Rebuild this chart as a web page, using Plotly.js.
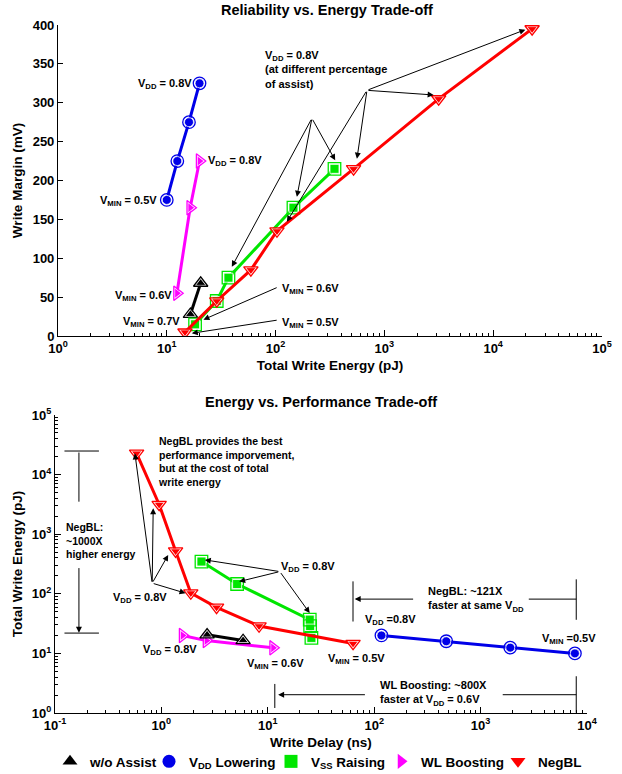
<!DOCTYPE html>
<html><head><meta charset="utf-8">
<script src="https://cdn.plot.ly/plotly-3.0.1.min.js"></script>
<style>body{margin:0;background:#fff}#chart{width:622px;height:774px}</style>
</head><body><div id="chart"></div>
<script>
// ---- data: energy (pJ), write margin (mV), write delay (ns) ----
const seriesNames = ['w/o Assist', 'V<sub>DD</sub> Lowering', 'V<sub>SS</sub> Raising', 'WL Boosting', 'NegBL'];
const noAssistEnergy = [16.5, 20.5];
const noAssistMargin = [28, 68];
const noAssistDelay = [5.86, 2.69];
const vddLowEnergy = [10, 12.5, 16, 20];
const vddLowMargin = [175, 225, 275, 325];
const vddLowDelay = [7700, 1900, 476, 117];
const vssRaiseEnergy = [18.2, 28.8, 36.9, 146, 348];
const vssRaiseMargin = [15, 45, 75, 165, 215];
const vssRaiseDelay = [25.7, 25.0, 24.8, 5.15, 2.38];
const wlBoostEnergy = [12.4, 16.4, 20];
const wlBoostMargin = [55, 165, 225];
const wlBoostDelay = [11.2, 2.65, 1.58];
const negBLEnergy = [14.7, 28.8, 59.3, 103, 521, 3155, 22800];
const negBLMargin = [5, 45, 85, 135, 215, 305, 395];
const negBLDelay = [63.3, 8.28, 3.3, 1.89, 1.36, 0.953, 0.585];

const energyTickVals = [1, 10, 100, 1000, 10000, 100000];
const energyTickText = ['10<sup>0</sup>', '10<sup>1</sup>', '10<sup>2</sup>', '10<sup>3</sup>', '10<sup>4</sup>', '10<sup>5</sup>'];
const delayTickVals = [0.1, 1, 10, 100, 1000, 10000];
const delayTickText = ['10<sup>-1</sup>', '10<sup>0</sup>', '10<sup>1</sup>', '10<sup>2</sup>', '10<sup>3</sup>', '10<sup>4</sup>'];
const marginTickVals = [0, 50, 100, 150, 200, 250, 300, 350, 400];

function minorVals(lo, hi) {
  const out = [];
  for (let e = lo; e < hi; e++) for (let m = 2; m <= 9; m++) out.push(m * Math.pow(10, e));
  return out;
}

const colors = ['#000000', '#0000e8', '#00e600', '#ff00ff', '#ff0000'];
const symbols = ['triangle-up', 'circle', 'square', 'triangle-right', 'triangle-down'];
const energies = [noAssistEnergy, vddLowEnergy, vssRaiseEnergy, wlBoostEnergy, negBLEnergy];
const margins = [noAssistMargin, vddLowMargin, vssRaiseMargin, wlBoostMargin, negBLMargin];
const delays = [noAssistDelay, vddLowDelay, vssRaiseDelay, wlBoostDelay, negBLDelay];

const traces = [];
const order = [1, 3, 0, 2, 4];
[['x', 'y', energies, margins], ['x2', 'y2', delays, energies]].forEach(([xa, ya, xs, ys]) => {
  order.forEach(i => {
    traces.push({x: xs[i], y: ys[i], xaxis: xa, yaxis: ya, mode: 'lines+markers', showlegend: false,
      line: {color: colors[i], width: 3},
      marker: {symbol: symbols[i], size: 9, color: colors[i], line: {color: 'white', width: 0.8}}});
    traces.push({x: xs[i], y: ys[i], xaxis: xa, yaxis: ya, mode: 'markers', showlegend: false,
      marker: {symbol: symbols[i] + '-open', size: 12.5, color: colors[i], line: {color: colors[i], width: 1.3}}});
  });
});
const legendIds = ['legend', 'legend2', 'legend3', 'legend4', 'legend5'];
for (let i = 0; i < 5; i++) {
  traces.push({x: [null], y: [null], xaxis: 'x', yaxis: 'y', mode: 'markers', name: seriesNames[i],
    legend: legendIds[i], showlegend: true,
    marker: {symbol: symbols[i], size: 13, color: colors[i]}});
}

function arrow(xr, yr, x, y, ax, ay, head) {
  return {xref: xr, yref: yr, axref: xr, ayref: yr, x: x, y: y, ax: ax, ay: ay, text: '',
    showarrow: true, arrowhead: head, arrowsize: 1.2, arrowwidth: 1, arrowcolor: '#000',
    standoff: 0, startstandoff: 0};
}
function label(xr, yr, x, y, text, xanchor, yanchor, size) {
  return {xref: xr, yref: yr, x: x, y: y, text: text, showarrow: false, borderpad: 0, borderwidth: 0,
    xanchor: xanchor, yanchor: yanchor || 'middle', align: 'left', font: {size: size || 11}};
}

const ann = [
  {xref: 'paper', yref: 'paper', x: 0.526, y: 0.987, text: 'Reliability vs. Energy Trade-off', showarrow: false, font: {size: 14.5}, xanchor: 'center', yanchor: 'middle'},
  {xref: 'paper', yref: 'paper', x: 0.516, y: 0.4806, text: 'Energy vs. Performance Trade-off', showarrow: false, font: {size: 14.5}, xanchor: 'center', yanchor: 'middle'},
  // top chart labels
  label('x', 'y', 1.233, 324, 'V<sub>DD</sub> = 0.8V', 'right'),
  label('x', 'y', 0.911, 173, 'V<sub>MIN</sub> = 0.5V', 'right'),
  label('x', 'y', 1.38, 225, 'V<sub>DD</sub> = 0.8V', 'left'),
  label('x', 'y', 1.049, 52, 'V<sub>MIN</sub> = 0.6V', 'right'),
  label('x', 'y', 1.122, 18, 'V<sub>MIN</sub> = 0.7V', 'right'),
  label('x', 'y', 2.061, 60, 'V<sub>MIN</sub> = 0.6V', 'left'),
  label('x', 'y', 2.061, 17, 'V<sub>MIN</sub> = 0.5V', 'left'),
  label('x', 'y', 1.904, 369, 'V<sub>DD</sub> = 0.8V<br>(at different percentage<br>of assist)', 'left', 'top'),
  arrow('x', 'y', 1.598, 89, 2.334, 280, 2),
  arrow('x', 'y', 2.196, 179, 2.334, 280, 2),
  arrow('x', 'y', 2.548, 226, 2.334, 280, 2),
  arrow('x', 'y', 4.296, 394, 2.840, 316, 2),
  arrow('x', 'y', 3.453, 310, 2.840, 316, 2),
  arrow('x', 'y', 2.748, 228, 2.840, 316, 2),
  arrow('x', 'y', 2.104, 147, 2.840, 316, 2),
  arrow('x', 'y', 1.337, 21, 2.024, 63, 2),
  arrow('x', 'y', 1.230, 3.5, 2.024, 20.6, 2),
  // bottom chart labels
  label('x2', 'y2', -0.033, 4.66, 'NegBL provides the best<br>performance imporvement,<br>but at the cost of total<br>write energy', 'left', 'top', 10.5),
  label('x2', 'y2', -0.897, 2.887, 'NegBL:<br>~1000X<br>higher energy', 'left', 'middle', 10.5),
  arrow('x2', 'y2', -0.587, 4.396, -0.925, 4.396, 0),
  arrow('x2', 'y2', -0.587, 1.341, -0.925, 1.341, 0),
  arrow('x2', 'y2', -0.775, 3.546, -0.775, 4.396, 0),
  arrow('x2', 'y2', -0.775, 1.346, -0.775, 2.457, 2),
  label('x2', 'y2', 0.049, 1.93, 'V<sub>DD</sub> = 0.8V', 'right'),
  arrow('x2', 'y2', -0.249, 4.357, -0.0864, 2.179, 2),
  arrow('x2', 'y2', -0.077, 3.436, -0.0864, 2.179, 2),
  arrow('x2', 'y2', 0.064, 2.653, -0.0864, 2.179, 2),
  arrow('x2', 'y2', 0.227, 2.011, -0.0864, 2.179, 2),
  label('x2', 'y2', 1.12, 2.45, 'V<sub>DD</sub> = 0.8V', 'left'),
  arrow('x2', 'y2', 0.408, 2.569, 1.113, 2.373, 2),
  arrow('x2', 'y2', 0.731, 2.206, 1.113, 2.373, 2),
  arrow('x2', 'y2', 1.394, 1.676, 1.113, 2.373, 2),
  label('x2', 'y2', -0.174, 1.06, 'V<sub>DD</sub> = 0.8V', 'left'),
  label('x2', 'y2', 0.803, 0.826, 'V<sub>MIN</sub> = 0.6V', 'left'),
  label('x2', 'y2', 1.563, 0.91, 'V<sub>MIN</sub> = 0.5V', 'left'),
  label('x2', 'y2', 1.911, 1.564, 'V<sub>DD</sub> =0.8V', 'left'),
  label('x2', 'y2', 3.573, 1.245, 'V<sub>MIN</sub> =0.5V', 'left'),
  // NegBL 121X bracket
  arrow('x2', 'y2', 1.801, 1.535, 1.801, 2.234, 0),
  arrow('x2', 'y2', 3.899, 1.564, 3.899, 2.268, 0),
  arrow('x2', 'y2', 1.817, 1.911, 2.380, 1.911, 2),
  arrow('x2', 'y2', 3.899, 1.911, 3.439, 1.911, 0),
  label('x2', 'y2', 2.502, 1.899, 'NegBL: ~121X<br>faster at same V<sub>DD</sub>', 'left'),
  // WL boosting 800X bracket
  arrow('x2', 'y2', 1.066, 0.084, 1.066, 0.513, 0),
  arrow('x2', 'y2', 3.899, 0.005, 3.899, 0.642, 0),
  arrow('x2', 'y2', 1.097, 0.307, 1.927, 0.307, 2),
  arrow('x2', 'y2', 3.899, 0.307, 3.194, 0.307, 0),
  label('x2', 'y2', 2.052, 0.323, 'WL Boosting: ~800X<br>faster at V<sub>DD</sub> = 0.6V', 'left')
];

const axBase = {showline: true, linecolor: '#000', linewidth: 1, mirror: false, showgrid: false, zeroline: false,
  ticks: 'inside', ticklen: 6, tickcolor: '#000', tickfont: {size: 13}};

// legend entry left edges (px) -> paper fraction
const legendLeftPx = [50, 149, 271, 381, 498];
function legendBox(px) {
  return {orientation: 'h', x: px / 622, xanchor: 'left', y: -0.004, yanchor: 'bottom', font: {size: 13.5},
    bgcolor: 'rgba(0,0,0,0)', itemwidth: 30};
}

const layout = {
  width: 622, height: 774,
  margin: {l: 0, r: 0, t: 0, b: 0, autoexpand: false},
  paper_bgcolor: '#fff', plot_bgcolor: '#fff',
  font: {family: 'Liberation Sans, Arial, sans-serif', weight: 'bold', color: '#000', size: 12},
  xaxis: Object.assign({}, axBase, {type: 'log', domain: [0.0932, 0.9678], range: [0, 5], anchor: 'y',
    tickmode: 'array', tickvals: energyTickVals, ticktext: energyTickText,
    minor: {tickmode: 'array', tickvals: minorVals(0, 5), ticks: 'inside', ticklen: 3, tickcolor: '#000', showgrid: false},
    title: {text: 'Total Write Energy (pJ)', font: {size: 13.5}, standoff: 5}}),
  yaxis: Object.assign({}, axBase, {domain: [0.5659, 0.9677], range: [0, 400], anchor: 'x',
    tickmode: 'array', tickvals: marginTickVals, ticklen: 5,
    title: {text: 'Write Margin (mV)', font: {size: 13.5}, standoff: 6}}),
  xaxis2: Object.assign({}, axBase, {type: 'log', domain: [0.0884, 0.9437], range: [-1, 4], anchor: 'y2',
    tickmode: 'array', tickvals: delayTickVals, ticktext: delayTickText,
    minor: {tickmode: 'array', tickvals: minorVals(-1, 4), ticks: 'inside', ticklen: 3, tickcolor: '#000', showgrid: false},
    title: {text: 'Write Delay (ns)', font: {size: 13.5}, standoff: 5}}),
  yaxis2: Object.assign({}, axBase, {type: 'log', domain: [0.0788, 0.4638], range: [0, 5], anchor: 'x2',
    tickmode: 'array', tickvals: energyTickVals, ticktext: energyTickText,
    minor: {tickmode: 'array', tickvals: minorVals(0, 5), ticks: 'inside', ticklen: 3, tickcolor: '#000', showgrid: false},
    title: {text: 'Total Write Energy (pJ)', font: {size: 13.5}, standoff: 6}}),
  showlegend: true,
  legend: legendBox(legendLeftPx[0]),
  legend2: legendBox(legendLeftPx[1]),
  legend3: legendBox(legendLeftPx[2]),
  legend4: legendBox(legendLeftPx[3]),
  legend5: legendBox(legendLeftPx[4]),
  annotations: ann
};

Plotly.newPlot('chart', traces, layout, {displayModeBar: false, staticPlot: true});
</script>
</body></html>
